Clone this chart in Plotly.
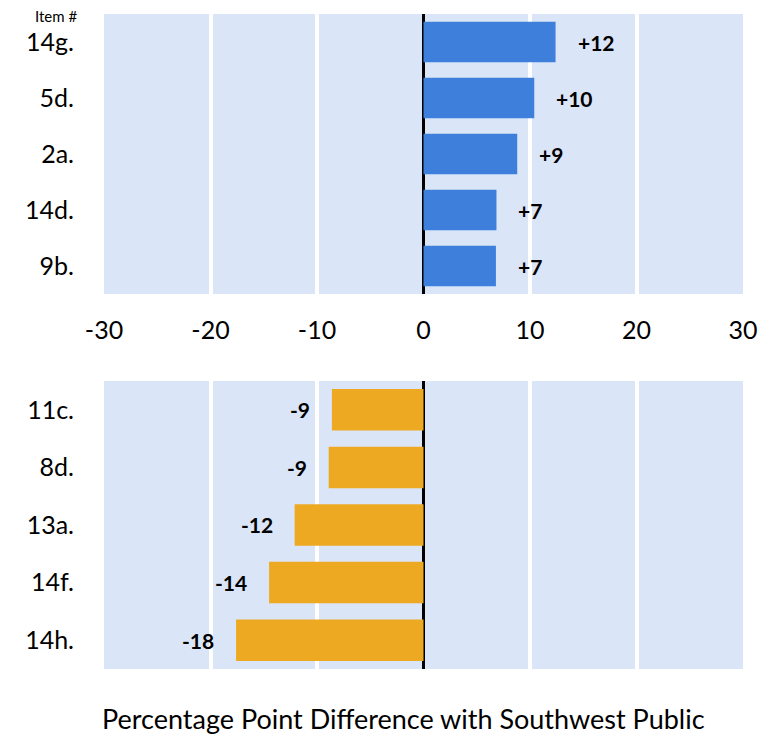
import plotly.graph_objects as go
from plotly.subplots import make_subplots

top_items = ["14g.", "5d.", "2a.", "14d.", "9b."]
top_values = [12.4, 10.4, 8.8, 6.85, 6.8]
top_labels = ["+12", "+10", "+9", "+7", "+7"]

bottom_items = ["11c.", "8d.", "13a.", "14f.", "14h."]
bottom_values = [-8.6, -8.9, -12.1, -14.5, -17.6]
bottom_labels = ["-9", "-9", "-12", "-14", "-18"]

x_ticks = [-30, -20, -10, 0, 10, 20, 30]
x_tick_text = ["-30", "-20", "-10", "0", "10", "20", "30"]
x_title = "Percentage Point Difference with Southwest Public"

FONT = "Lato"
BLUE = "#3E7FDC"
ORANGE = "#EEA922"
BG = "#DAE5F7"

fig = make_subplots(rows=2, cols=1, vertical_spacing=0.13)

fig.add_trace(go.Bar(y=top_items, x=top_values, orientation="h",
                     marker=dict(color=BLUE, line=dict(width=0)), showlegend=False),
              row=1, col=1)
fig.add_trace(go.Bar(y=bottom_items, x=bottom_values, orientation="h",
                     marker=dict(color=ORANGE, line=dict(width=0)), showlegend=False),
              row=2, col=1)

for item, v, lab in zip(top_items, top_values, top_labels):
    fig.add_annotation(x=v, y=item, xref="x", yref="y", text="<b>%s</b>" % lab,
                       showarrow=False, xanchor="left", xshift=20,
                       font=dict(family=FONT, size=21, color="black"))
for item, v, lab in zip(bottom_items, bottom_values, bottom_labels):
    fig.add_annotation(x=v, y=item, xref="x2", yref="y2", text="<b>%s</b>" % lab,
                       showarrow=False, xanchor="right", xshift=-20,
                       font=dict(family=FONT, size=21, color="black"))

fig.add_annotation(x=0, y=1.0, xref="paper", yref="paper", text="Item #",
                   showarrow=False, xanchor="right", yanchor="bottom", xshift=-26, yshift=-12,
                   borderpad=0, font=dict(family=FONT, size=15, color="black"))
fig.add_annotation(x=0.468, y=0, xref="paper", yref="paper", text=x_title,
                   showarrow=False, xanchor="center", yanchor="middle", yshift=-49,
                   font=dict(family=FONT, size=27, color="black"))

axis_common = dict(range=[-30, 30], tickvals=x_ticks, ticktext=x_tick_text, showgrid=True,
                   gridcolor="white", gridwidth=4, zeroline=True, zerolinecolor="black",
                   zerolinewidth=3, showline=False, fixedrange=True)
fig.update_xaxes(**axis_common)
fig.update_xaxes(showticklabels=True, ticks="", tickfont=dict(family=FONT, size=25, color="black"),
                 ticklabelstandoff=19, row=1, col=1)
fig.update_xaxes(showticklabels=False, row=2, col=1)
fig.update_yaxes(autorange="reversed", showgrid=False, ticks="", showline=False,
                 tickfont=dict(family=FONT, size=25, color="black"), ticklabelstandoff=29)
fig.update_yaxes(domain=[0.5725, 1.0], row=1, col=1)
fig.update_yaxes(domain=[0.0, 0.4397], row=2, col=1)

fig.update_layout(width=780, height=736, margin=dict(l=96, r=45, t=6, b=75),
                  plot_bgcolor=BG, paper_bgcolor="white", bargap=0.28,
                  font=dict(family=FONT, color="black"))

fig.write_html("out.html")
